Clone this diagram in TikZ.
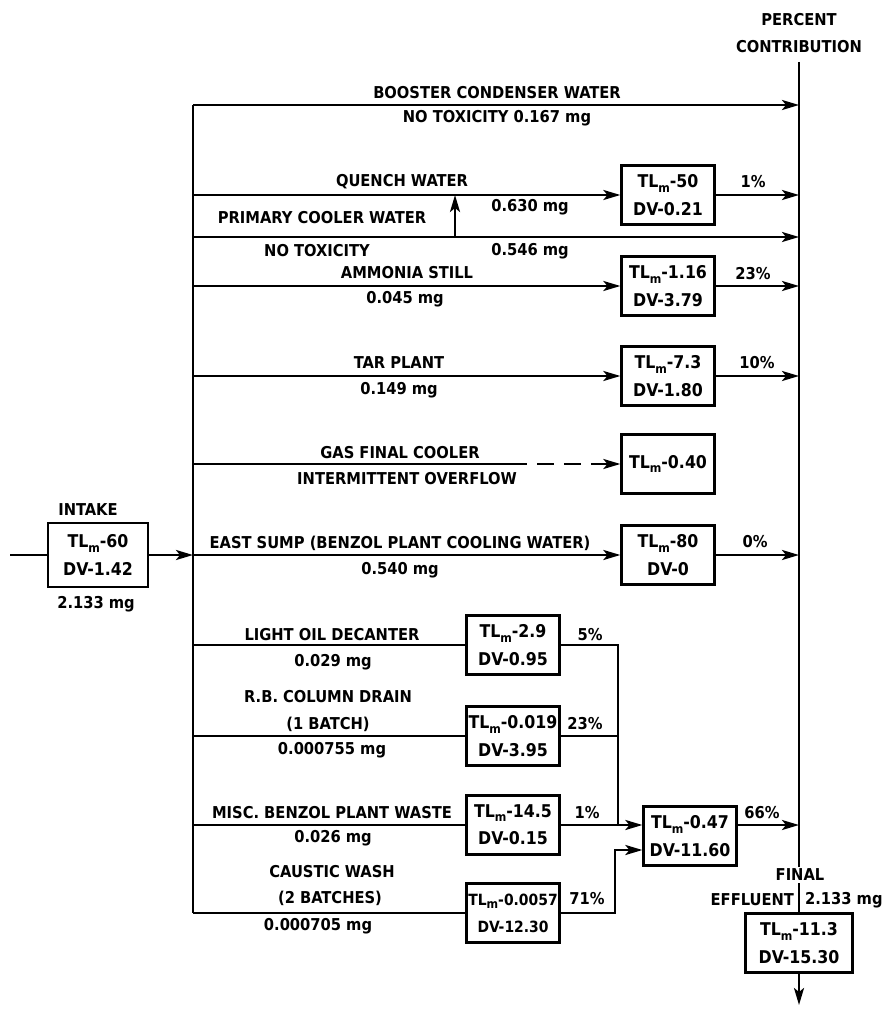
\documentclass[tikz,border=0pt]{standalone}
\usepackage{fontspec}
\setmainfont{DejaVu Sans Condensed}
\usetikzlibrary{arrows.meta}
\newcommand{\tlm}{TL\raisebox{-0.45ex}{\scriptsize m}}

\begin{document}
\begin{tikzpicture}[x=0.02cm, y=-0.02cm,
  every node/.style={font=\fontsize{9.3}{15}\selectfont\bfseries, inner sep=1pt},
  line/.style={line width=1.4pt},
  flow/.style={line, -{Stealth[length=0.34cm, width=0.2cm, inset=0.08cm]}},
  box/.style={draw, line width=1.3pt, align=center, minimum width=1.86cm, minimum height=1.18cm,
    inner sep=0.5pt, font=\fontsize{10}{15.5}\selectfont\bfseries}]
\useasboundingbox (0,0) rectangle (883,1010);

% the two collecting lines
\coordinate (rtop) at (799,62);
\coordinate (ltop) at (193,105);
\coordinate (lbot) at (193,913);
\coordinate (inlet) at (10,555);
\coordinate (primary) at (193,237);
\coordinate (qup) at (455,237);
\coordinate (gdash) at (510,464);
\coordinate (cv) at (618,825);
\coordinate (cj) at (615,850);
\coordinate (outlet) at (799,1005);
\node (pct) at (799,20) {PERCENT};
\node (contrib) at (799,47) {CONTRIBUTION};

% boxes
\node[box, minimum width=2cm, minimum height=1.28cm] (intake) at (98,555) {\tlm-60\\DV-1.42};
\node[box] (quench) at (668,195) {\tlm-50\\DV-0.21};
\node[box] (ammonia) at (668,286) {\tlm-1.16\\DV-3.79};
\node[box] (tar) at (668,376) {\tlm-7.3\\DV-1.80};
\node[box] (gas) at (668,464) {\tlm-0.40};
\node[box] (sump) at (668,555) {\tlm-80\\DV-0};
\node[box] (oil) at (513,645) {\tlm-2.9\\DV-0.95};
\node[box] (rb) at (513,736) {\tlm-0.019\\DV-3.95};
\node[box] (misc) at (513,825) {\tlm-14.5\\DV-0.15};
\node[box, font=\fontsize{8.8}{15.5}\selectfont\bfseries] (caustic) at (513,913) {\tlm-0.0057\\DV-12.30};
\node[box] (merge) at (690,836) {\tlm-0.47\\DV-11.60};
\node[box, minimum width=2.14cm] (final) at (799,943) {\tlm-11.3\\DV-15.30};

\draw[line] (rtop) -- (final.north);
\draw[line] (ltop) -- (lbot);
\draw[flow] (final.south) -- (outlet);

% upper streams
\draw[flow] (ltop) -- (ltop -| rtop);
\draw[flow] (ltop |- quench) -- (quench.west);
\draw[flow] (quench.east) -- (quench -| rtop);
\draw[flow] (primary) -- (primary -| rtop);
\draw[flow] (qup) -- (qup |- quench);
\draw[flow] (ltop |- ammonia) -- (ammonia.west);
\draw[flow] (ammonia.east) -- (ammonia -| rtop);
\draw[flow] (ltop |- tar) -- (tar.west);
\draw[flow] (tar.east) -- (tar -| rtop);
\draw[line] (ltop |- gas) -- (gdash);
\draw[flow, dash pattern=on 0.34cm off 0.2cm] (gdash) -- (gas.west);
\draw[line] (inlet) -- (intake.west);
\draw[flow] (intake.east) -- (intake -| ltop);
\draw[flow] (ltop |- sump) -- (sump.west);
\draw[flow] (sump.east) -- (sump -| rtop);

% benzol plant streams
\draw[line] (ltop |- oil) -- (oil.west);
\draw[line] (ltop |- rb) -- (rb.west);
\draw[line] (ltop |- misc) -- (misc.west);
\draw[line] (ltop |- caustic) -- (caustic.west);
\draw[line] (oil.east) -| (cv);
\draw[line] (rb.east) -- (rb -| cv);
\draw[flow] (misc.east) -- (misc -| merge.west);
\draw[flow] (caustic.east) -| (cj) -- (cj -| merge.west);
\draw[flow] (merge.east |- misc) -- (misc -| rtop);

% labels
\node (t1) at (497,93) {BOOSTER CONDENSER WATER};
\node (t2) at (497,118) {NO TOXICITY 0.167 mg};
\node (t3) at (402,182) {QUENCH WATER};
\node (t4) at (530,207) {0.630 mg};
\node (t5) at (322,218) {PRIMARY COOLER WATER};
\node (t6) at (317,251) {NO TOXICITY};
\node (t7) at (530,251) {0.546 mg};
\node (t8) at (407,273) {AMMONIA STILL};
\node (t9) at (405,299) {0.045 mg};
\node (t10) at (399,363) {TAR PLANT};
\node (t11) at (399,390) {0.149 mg};
\node (t12) at (400,453) {GAS FINAL COOLER};
\node (t13) at (407,479) {INTERMITTENT OVERFLOW};
\node (t14) at (400,543) {EAST SUMP (BENZOL PLANT COOLING WATER)};
\node (t15) at (400,570) {0.540 mg};
\node (t16) at (88,510) {INTAKE};
\node (t17) at (96,604) {2.133 mg};
\node (t18) at (332,635) {LIGHT OIL DECANTER};
\node (t19) at (333,662) {0.029 mg};
\node (t20) at (328,697) {R.B. COLUMN DRAIN};
\node (t21) at (328,724) {(1 BATCH)};
\node (t22) at (332,750) {0.000755 mg};
\node (t23) at (332,813) {MISC. BENZOL PLANT WASTE};
\node (t24) at (333,838) {0.026 mg};
\node (t25) at (332,872) {CAUSTIC WASH};
\node (t26) at (330,898) {(2 BATCHES)};
\node (t27) at (318,926) {0.000705 mg};
\node (p1) at (753,182) {1\%};
\node (p2) at (753,274) {23\%};
\node (p3) at (757,363) {10\%};
\node (p4) at (755,542) {0\%};
\node (p5) at (590,635) {5\%};
\node (p6) at (585,724) {23\%};
\node (p7) at (587,813) {1\%};
\node (p8) at (587,899) {71\%};
\node (p9) at (762,813) {66\%};
\node[fill=white] (fin) at (800,875) {FINAL};
\node[anchor=east] (eff) at (796,900) {EFFLUENT};
\node[anchor=west] (effmg) at (803,900) {2.133 mg};
\end{tikzpicture}
\end{document}
